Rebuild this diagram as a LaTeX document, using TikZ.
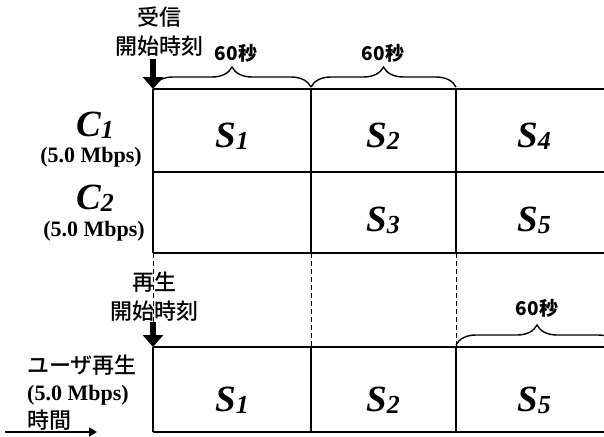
\documentclass[tikz,border=0pt]{standalone}
\usepackage{fontspec}
\setmainfont{Liberation Serif}
\newfontfamily\jpfont{Noto Sans CJK JP}[UprightFont={* Medium}]
\usetikzlibrary{arrows.meta,decorations.pathreplacing}

% segment / channel labels: big bold italic letter, italic index
\newcommand{\segname}[2]{{\fontsize{37}{37}\selectfont\bfseries\itshape #1\raisebox{-2pt}{\fontsize{26}{26}\selectfont #2}}}
\newcommand{\rate}{{\fontsize{22}{22}\selectfont\bfseries (5.0 Mbps)}}

\tikzset{
  grid line/.style={line width=2.6pt},
  guide line/.style={line width=0.8pt, dash pattern=on 5pt off 3pt},
  sec brace/.style={decorate, decoration={brace, amplitude=20pt}, line width=1.4pt},
  sec label/.style={font=\jpfont\bfseries\fontsize{19}{19}\selectfont},
  jp label/.style={font=\jpfont\fontsize{22}{29}\selectfont, align=center, inner sep=0pt},
  seg label/.style={anchor=base, inner sep=0pt},
  start arrow/.style={line width=6.5pt, -{Triangle[length=12pt,width=20pt]}}
}

\begin{document}
\begin{tikzpicture}[x=1pt, y=-1pt]
    \useasboundingbox (0,0) rectangle (604,436);

    % Channels C1 and C2
    \draw[grid line] (153,89) -- (604,89);
    \draw[grid line] (153,172) -- (604,172);
    \draw[grid line] (153,253) -- (604,253);
    \foreach \x in {153,311,456}
        \draw[grid line] (\x,89) -- (\x,253);

    % Guides down to the playback row
    \foreach \x in {153,311,456}
        \draw[guide line] (\x,253) -- (\x,347);

    % User playback
    \draw[grid line] (153,347) -- (604,347);
    \draw[grid line] (153,432) -- (604,432);
    \foreach \x in {153,311,456}
        \draw[grid line] (\x,347) -- (\x,432);

    % Segments
    \node[seg label] (s1) at (232,147) {\segname{S}{1}};
    \node[seg label] (s2) at (383,147) {\segname{S}{2}};
    \node[seg label] (s4) at (534,147) {\segname{S}{4}};
    \node[seg label] (s3) at (383,231) {\segname{S}{3}};
    \node[seg label] (s5) at (534,231) {\segname{S}{5}};
    \node[seg label] (p1) at (232,411) {\segname{S}{1}};
    \node[seg label] (p2) at (383,411) {\segname{S}{2}};
    \node[seg label] (p5) at (534,411) {\segname{S}{5}};

    % Channel names
    \node[seg label] (c1) at (95,136) {\segname{C}{1}};
    \node[inner sep=0pt] (c1rate) at (91,157) {\rate};
    \node[seg label] (c2) at (95,209) {\segname{C}{2}};
    \node[inner sep=0pt] (c2rate) at (94,231) {\rate};

    % 60 s braces
    \draw[sec brace] (153,87) -- (311,87);
    \node[sec label] (d1) at (236,53) {60秒};
    \draw[sec brace] (311,87) -- (456,87);
    \node[sec label] (d2) at (383,53) {60秒};
    \draw[sec brace] (456,345) -- (618,345);
    \node[sec label] (d3) at (537,308) {60秒};

    % Start of reception
    \node[jp label] (recv) at (159,32) {受信\\開始時刻};
    \coordinate (recvtop) at (153,59);
    \coordinate (recvend) at (153,89);
    \draw[start arrow] (recvtop) -- (recvend);

    % Start of playback
    \node[jp label] (play) at (154,297) {再生\\開始時刻};
    \coordinate (playtop) at (153,322);
    \coordinate (playend) at (153,347);
    \draw[start arrow] (playtop) -- (playend);

    % User side labels
    \node[jp label, anchor=west] (user) at (27,365) {ユーザ再生};
    \node[anchor=west, inner sep=0pt] (userrate) at (27,395) {\rate};
    \node[jp label, anchor=west] (time) at (27,420) {時間};
    \coordinate (tstart) at (5,432);
    \coordinate (tend) at (97,432);
    \draw[line width=2.6pt, -{Triangle[length=8pt,width=9pt]}] (tstart) -- (tend);
\end{tikzpicture}
\end{document}
